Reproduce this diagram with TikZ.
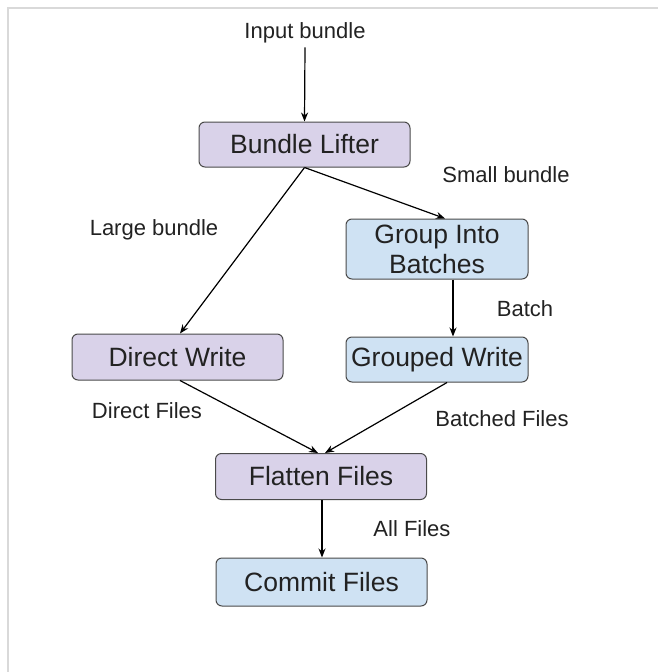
\documentclass[tikz,border=0pt]{standalone}
\usepackage{fontspec}
\setmainfont{Liberation Sans}
\usetikzlibrary{arrows.meta}
\definecolor{lav}{HTML}{D9D2E9}
\definecolor{lblue}{HTML}{CFE2F3}
\definecolor{boxline}{HTML}{4A4A4A}
\definecolor{txt}{HTML}{222222}
\definecolor{frame}{HTML}{D9D9D9}
\begin{document}
\begin{tikzpicture}[x=1pt,y=-1pt,
  box/.style={draw=boxline,line width=1pt,rounded corners=6pt,inner sep=0pt,align=center,
    text=txt,font=\fontsize{26.5}{30}\selectfont},
  purplebox/.style={box,fill=lav},
  bluebox/.style={box,fill=lblue},
  lbl/.style={text=txt,font=\fontsize{22}{26}\selectfont,inner sep=0pt},
  conn/.style={line width=1.2pt,-{Stealth[length=9pt,width=7pt]}}]
\useasboundingbox (0,0) rectangle (658,672);
\fill[white] (0,0) rectangle (658,672);
\draw[frame,line width=2pt] (8,672) -- (8,8) -- (658,8);

\node[purplebox,minimum width=211pt,minimum height=45pt] (lifter) at (304.5,144.5) {Bundle Lifter};
\node[bluebox,minimum width=182pt,minimum height=60pt] (group) at (437,249) {Group Into\\Batches};
\node[purplebox,minimum width=211pt,minimum height=46pt] (direct) at (177.5,357) {Direct Write};
\node[bluebox,minimum width=182pt,minimum height=45pt] (grouped) at (437,359.5) {Grouped Write};
\node[purplebox,minimum width=211pt,minimum height=46pt] (flatten) at (321,476.5) {Flatten Files};
\node[bluebox,minimum width=211pt,minimum height=48pt] (commit) at (321.5,582) {Commit Files};

\node[lbl] (input) at (305,33) {Input bundle};
\node[lbl] (large) at (154,230) {Large bundle};
\node[lbl] (small) at (506,175) {Small bundle};
\node[lbl] (batch) at (525,309) {Batch};
\node[lbl] (dfiles) at (147,411) {Direct Files};
\node[lbl] (bfiles) at (502,419) {Batched Files};
\node[lbl] (all) at (412,529) {All Files};

\draw[conn] (input.south) ++(0,4) -- (lifter.north);
\draw[conn] (lifter.south) -- ([xshift=2.5pt]direct.north);
\draw[conn] (lifter.south) -- ([xshift=8pt]group.north);
\draw[conn] ([xshift=16pt]group.south) -- ([xshift=16pt]grouped.north);
\draw[conn] ([xshift=2.5pt]direct.south) -- ([xshift=-3pt]flatten.north);
\draw[conn] ([xshift=10pt]grouped.south) -- ([xshift=4pt]flatten.north);
\draw[conn] ([xshift=1pt]flatten.south) -- ([xshift=0.5pt]commit.north);
\end{tikzpicture}
\end{document}
